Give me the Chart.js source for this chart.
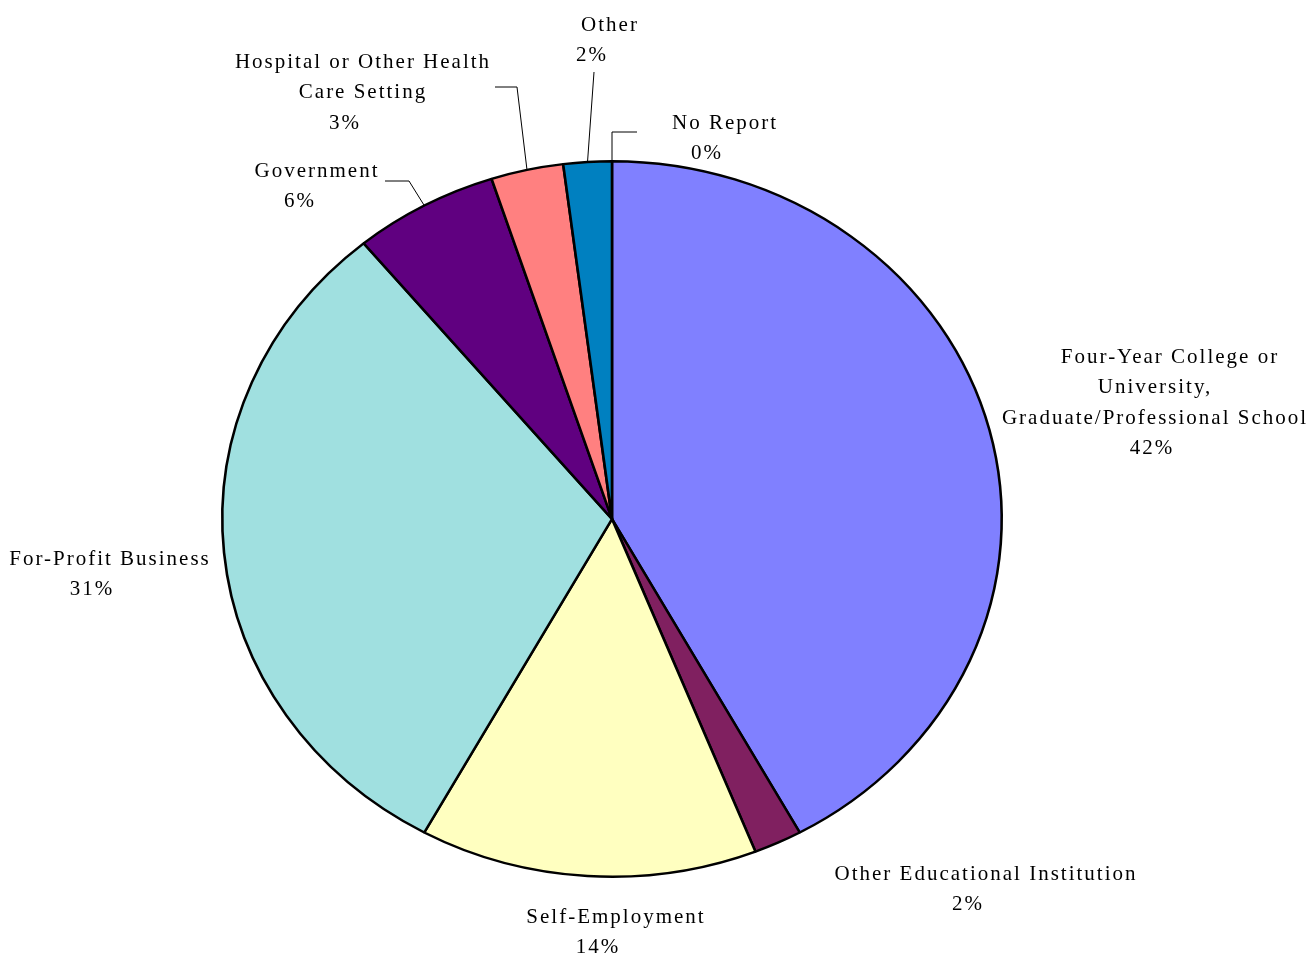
<!DOCTYPE html>
<html>
<head>
<meta charset="utf-8">
<title>Employment sector</title>
<script src="https://cdn.jsdelivr.net/npm/chart.js@4.4.1/dist/chart.umd.min.js"></script>
<style>
    html, body { margin: 0; padding: 0; background: #fff; }
    canvas { display: block; }
</style>
</head>
<body>
<canvas id="chart-sector" width="1311" height="954"></canvas>
<script>
// Sectors, clockwise from 12 o'clock
const categories = [
    "Four-Year College or University, Graduate/Professional School",
    "Other Educational Institution",
    "Self-Employment",
    "For-Profit Business",
    "Government",
    "Hospital or Other Health Care Setting",
    "Other",
    "No Report"
];
const shares = [42, 2, 14, 31, 6, 3, 2, 0]; // percent
const labelLines = [
    ["Four-Year College or", "University,", "Graduate/Professional School"],
    ["Other Educational Institution"],
    ["Self-Employment"],
    ["For-Profit Business"],
    ["Government"],
    ["Hospital or Other Health", "Care Setting"],
    ["Other"],
    ["No Report"]
];
const colors = ["#8080FF", "#802060", "#FFFFC0", "#A0E0E0", "#600080", "#FF8080", "#0080C0", "#C0C0FF"];

// label placement: x per line (last one is the % line), y of first line
const labelLayout = [
    { x: [1170, 1155, 1155, 1152], y: 357 },
    { x: [986, 968], y: 874 },
    { x: [616, 598], y: 917 },
    { x: [110, 92], y: 559 },
    { x: [317, 300], y: 171 },
    { x: [363, 363, 345], y: 62 },
    { x: [610, 592], y: 25 },
    { x: [725, 707], y: 123 }
];
// leader lines: points from the label towards the slice edge
const leaders = {
    4: [[385, 181], [409, 181]],
    5: [[495, 87], [517, 87]],
    6: [[594, 72]],
    7: [[637, 132], [612, 132]]
};

const SQUASH = 0.918;   // pie is drawn a bit flatter than round
const LINE_H = 30.5;

const ellipsePlugin = {
    id: "ellipse",
    beforeDatasetsDraw(chart) {
        const arc = chart.getDatasetMeta(0).data[0];
        const ctx = chart.ctx;
        ctx.save();
        ctx.translate(arc.x, arc.y);
        ctx.scale(1, SQUASH);
        ctx.translate(-arc.x, -arc.y);
    },
    afterDatasetsDraw(chart) {
        chart.ctx.restore();
    }
};

const labelPlugin = {
    id: "sliceLabels",
    afterDraw(chart) {
        const ctx = chart.ctx;
        const arcs = chart.getDatasetMeta(0).data;
        ctx.save();
        ctx.fillStyle = "#000";
        ctx.font = "21px 'Liberation Serif', 'Times New Roman', serif";
        ctx.letterSpacing = "2px";
        ctx.textAlign = "center";
        ctx.textBaseline = "middle";

        arcs.forEach((arc, i) => {
            const lay = labelLayout[i];
            const lines = labelLines[i].concat([shares[i] + "%"]);
            lines.forEach((txt, k) => {
                ctx.fillText(txt, lay.x[k], lay.y + k * LINE_H);
            });

            const pts = leaders[i];
            if (pts) {
                const mid = (arc.startAngle + arc.endAngle) / 2;
                const ex = arc.x + arc.outerRadius * Math.cos(mid);
                const ey = arc.y + arc.outerRadius * Math.sin(mid) * SQUASH;
                ctx.beginPath();
                ctx.lineWidth = 1;
                ctx.strokeStyle = "#000";
                ctx.moveTo(pts[0][0], pts[0][1]);
                pts.slice(1).forEach(p => ctx.lineTo(p[0], p[1]));
                ctx.lineTo(ex, ey);
                ctx.stroke();
            }
        });
        ctx.restore();
    }
};

new Chart(document.getElementById("chart-sector").getContext("2d"), {
    type: "pie",
    data: {
        labels: categories,
        datasets: [{
            data: shares,
            backgroundColor: colors,
            borderColor: "#000",
            borderWidth: 2.6
        }]
    },
    options: {
        responsive: false,
        animation: false,
        devicePixelRatio: 1,
        layout: {
            padding: { left: 221, right: 308, top: 128, bottom: 44 }
        },
        plugins: {
            legend: { display: false },
            tooltip: { enabled: false }
        }
    },
    plugins: [ellipsePlugin, labelPlugin]
});
</script>
</body>
</html>
